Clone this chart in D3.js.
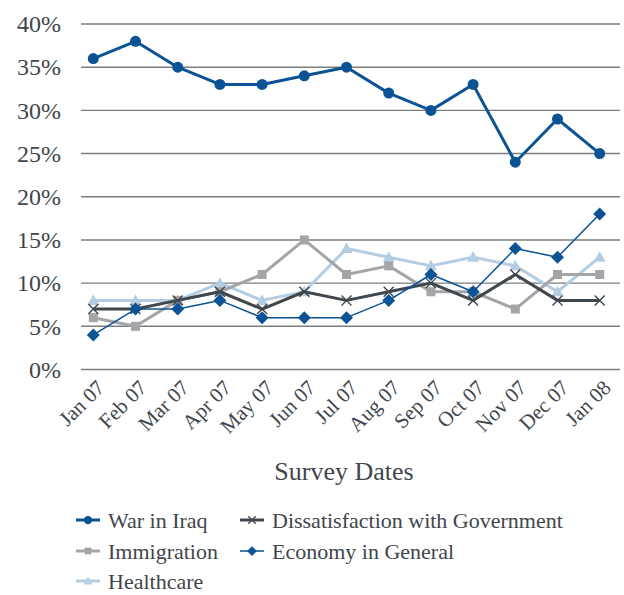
<!DOCTYPE html>
<html><head><meta charset="utf-8">
<script src="https://cdn.jsdelivr.net/npm/d3@7"></script>
<style>
html,body{margin:0;padding:0;background:#fff;}
svg{display:block;font-family:"Liberation Serif","DejaVu Serif",serif;}
</style></head>
<body>
<svg id="chart" width="624" height="595"></svg>
<script>
const months = ["Jan 07","Feb 07","Mar 07","Apr 07","May 07","Jun 07","Jul 07","Aug 07","Sep 07","Oct 07","Nov 07","Dec 07","Jan 08"];
const yTicks = [0,0.05,0.10,0.15,0.20,0.25,0.30,0.35,0.40];
const warInIraq =        [36,38,35,33,33,34,35,32,30,33,24,29,25];
const dissatisfaction =  [7,7,8,9,7,9,8,9,10,8,11,8,8];
const immigration =      [6,5,8,9,11,15,11,12,9,9,7,11,11];
const economy =          [4,7,7,8,6,6,6,8,11,9,14,13,18];
const healthcare =       [8,8,8,10,8,9,14,13,12,13,12,9,13];
const seriesNames = ["War in Iraq","Dissatisfaction with Government","Immigration","Economy in General","Healthcare"];

const textColor = "#3f464c";
const series = [
  {name:seriesNames[4], values:healthcare, color:"#b4cde3", width:3, marker:"triangle"},
  {name:seriesNames[2], values:immigration, color:"#a3a5a8", width:3, marker:"square"},
  {name:seriesNames[1], values:dissatisfaction, color:"#40474d", width:3, marker:"cross"},
  {name:seriesNames[3], values:economy, color:"#0b5394", width:1.5, marker:"diamond"},
  {name:seriesNames[0], values:warInIraq, color:"#0b5394", width:3, marker:"circle"}
];

const svg = d3.select("#chart");
const x = d3.scalePoint().domain(months).range([93.3, 599.7]);
const y = d3.scaleLinear().domain([0,0.40]).range([369.5, 24]);
const gridLeft = 81, gridRight = 620;

// gridlines
svg.append("g").selectAll("line").data(yTicks).join("line")
  .attr("x1", gridLeft).attr("x2", gridRight)
  .attr("y1", d=>y(d)).attr("y2", d=>y(d))
  .attr("stroke", "#7a7e82").attr("stroke-width", 1.4);

// y axis labels
const yAxis = d3.axisLeft(y).tickValues(yTicks).tickFormat(d3.format(".0%")).tickSize(0).tickPadding(0);
const yg = svg.append("g").attr("transform","translate(61,0)").call(yAxis);
yg.select(".domain").remove();
yg.selectAll("text").attr("font-size",24).attr("fill",textColor).attr("font-family","Liberation Serif");

// x axis labels
const xAxis = d3.axisBottom(x).tickSize(0).tickPadding(0);
const xg = svg.append("g").attr("transform","translate(0,380)").call(xAxis);
xg.select(".domain").remove();
xg.selectAll("text")
  .attr("font-size",21).attr("fill",textColor).attr("font-family","Liberation Serif")
  .attr("text-anchor","end").attr("dy","0")
  .attr("transform", "translate(12,9) rotate(-45)");

// axis title
svg.append("text").attr("x",344).attr("y",480).attr("text-anchor","middle")
  .attr("font-size",26).attr("fill",textColor).text("Survey Dates");

function drawMarker(g, type, color, cx, cy, scale){
  scale = scale || 1;
  if(type==="circle"){
    g.append("circle").attr("cx",cx).attr("cy",cy).attr("r",5.5*scale).attr("fill",color);
  } else if(type==="square"){
    const s=9*scale;
    g.append("rect").attr("x",cx-s/2).attr("y",cy-s/2).attr("width",s).attr("height",s).attr("fill",color);
  } else if(type==="diamond"){
    const s=6.5*scale;
    g.append("path").attr("d",`M${cx},${cy-s}L${cx+s},${cy}L${cx},${cy+s}L${cx-s},${cy}Z`).attr("fill",color);
  } else if(type==="triangle"){
    const s=6*scale;
    g.append("path").attr("d",`M${cx},${cy-s}L${cx+s},${cy+s*0.75}L${cx-s},${cy+s*0.75}Z`).attr("fill",color);
  } else if(type==="cross"){
    const s=5*scale;
    g.append("path").attr("d",`M${cx-s},${cy-s}L${cx+s},${cy+s}M${cx-s},${cy+s}L${cx+s},${cy-s}`)
      .attr("stroke",color).attr("stroke-width",1.4).attr("fill","none");
  }
}

const line = d3.line().x((d,i)=>x(months[i])).y(d=>y(d/100));
series.forEach(s=>{
  const g = svg.append("g");
  g.append("path").attr("d", line(s.values)).attr("fill","none")
    .attr("stroke", s.color).attr("stroke-width", s.width).attr("stroke-linejoin","round");
  s.values.forEach((v,i)=>drawMarker(g, s.marker, s.color, x(months[i]), y(v/100)));
});

// legend
const legendItems = [
  {name:seriesNames[0], s:series[4], lx:76, ly:520},
  {name:seriesNames[1], s:series[2], lx:240, ly:520},
  {name:seriesNames[2], s:series[1], lx:76, ly:551},
  {name:seriesNames[3], s:series[3], lx:240, ly:551},
  {name:seriesNames[4], s:series[0], lx:76, ly:581}
];
legendItems.forEach(it=>{
  const g = svg.append("g");
  g.append("line").attr("x1",it.lx).attr("x2",it.lx+24).attr("y1",it.ly).attr("y2",it.ly)
    .attr("stroke",it.s.color).attr("stroke-width",it.s.width);
  drawMarker(g, it.s.marker, it.s.color, it.lx+12, it.ly, 0.75);
  g.append("text").attr("x",it.lx+32).attr("y",it.ly).attr("dy","0.35em")
    .attr("font-size",22).attr("fill",textColor).text(it.name);
});
</script>
</body></html>
